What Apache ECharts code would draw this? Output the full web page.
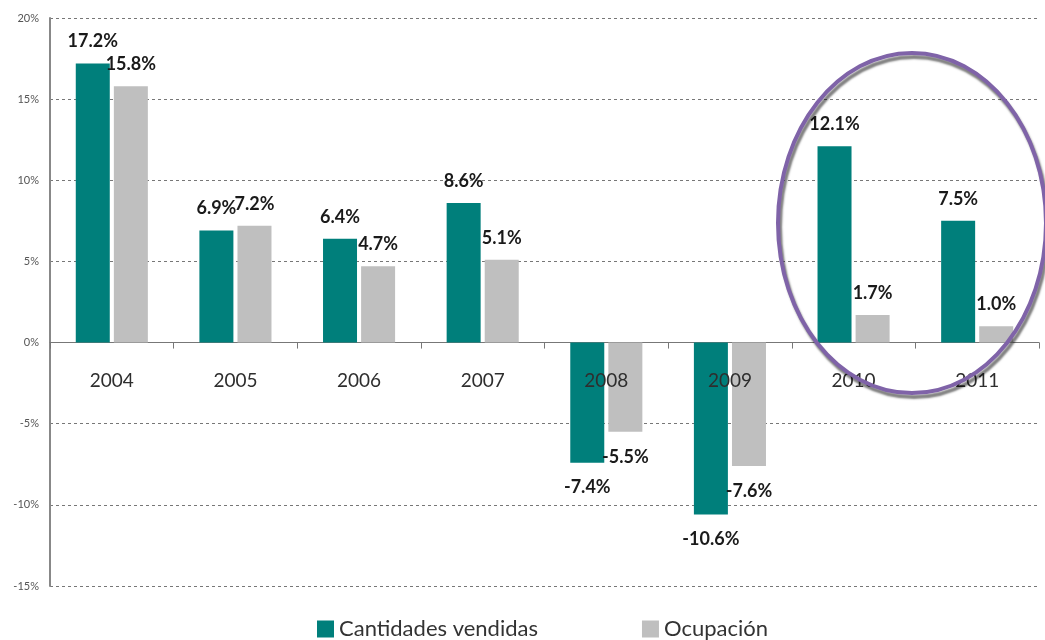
<!DOCTYPE html>
<html>
<head>
<meta charset="utf-8">
<script src="https://cdn.jsdelivr.net/npm/echarts@6/dist/echarts.min.js"></script>
<style>
  html, body { margin: 0; padding: 0; background: #fff; }
  #main { width: 1045px; height: 640px; }
</style>
</head>
<body>
<div id="main"></div>
<script>
// datos del gráfico
var years = ["2004", "2005", "2006", "2007", "2008", "2009", "2010", "2011"];
var cantidades = [17.2, 6.9, 6.4, 8.6, -7.4, -10.6, 12.1, 7.5];
var ocupacion = [15.8, 7.2, 4.7, 5.1, -5.5, -7.6, 1.7, 1.0];
var seriesNames = ["Cantidades vendidas", "Ocupación"];

var FONT = "Lato, 'Open Sans', sans-serif";

// etiqueta arriba si es positivo, abajo si es negativo
function makeData(values) {
  return values.map(function (v) {
    return {
      value: v,
      label: v < 0 ? { position: "bottom", distance: 16 } : { position: "top", distance: 13 }
    };
  });
}

var labelStyle = {
  show: true,
  fontFamily: FONT,
  fontSize: 18,
  fontWeight: "bold",
  color: "#1a1a1a",
  formatter: function (p) { return p.value.toFixed(1) + "%"; }
};

var chart = echarts.init(document.getElementById("main"));
var option = {
  animation: false,
  textStyle: { fontFamily: FONT },
  grid: { left: 50, right: 6, top: 18, bottom: 54, containLabel: false },
  legend: {
    bottom: -5,
    left: 312,
    itemWidth: 17,
    itemHeight: 17,
    itemGap: 104,
    icon: "rect",
    textStyle: { fontFamily: FONT, fontSize: 22, color: "#333" },
    data: seriesNames
  },
  xAxis: {
    type: "category",
    data: years,
    axisLine: { onZero: true, lineStyle: { color: "#777", width: 1 } },
    axisTick: { show: true, alignWithLabel: false, length: 6, lineStyle: { color: "#777" } },
    axisLabel: { show: false }
  },
  yAxis: {
    type: "value",
    min: -15,
    max: 20,
    interval: 5,
    axisLine: { show: true, lineStyle: { color: "#888", width: 2 } },
    axisTick: { show: false },
    axisLabel: { formatter: "{value}%", fontSize: 11, color: "#555", margin: 11, fontFamily: FONT },
    splitLine: { lineStyle: { type: [3, 3], color: "#777", width: 1 } }
  },
  series: [
    {
      name: seriesNames[0],
      type: "bar",
      barWidth: 34,
      barGap: "12%",
      itemStyle: { color: "#007F7B" },
      label: labelStyle,
      data: makeData(cantidades)
    },
    {
      name: seriesNames[1],
      type: "bar",
      barWidth: 34,
      barGap: "12%",
      itemStyle: { color: "#BFBFBF" },
      label: labelStyle,
      data: makeData(ocupacion)
    },
    {
      // años bajo la línea del cero
      name: "años",
      type: "custom",
      silent: true,
      z: 5,
      data: years.map(function (y, i) { return [i, 0]; }),
      renderItem: function (params, api) {
        var p = api.coord([api.value(0), 0]);
        return {
          type: "text",
          x: p[0],
          y: p[1] + 38,
          style: {
            text: years[api.value(0)],
            fontFamily: FONT,
            fontSize: 19,
            fill: "#2e2e2e",
            align: "center",
            verticalAlign: "middle"
          }
        };
      }
    }
  ],
  // círculo de resaltado 2010-2011
  graphic: [
    {
      type: "ellipse",
      shape: { cx: 912, cy: 223, rx: 134, ry: 170 },
      style: {
        fill: "none",
        stroke: "#7F63A8",
        lineWidth: 4,
        shadowColor: "rgba(0,0,0,0.5)",
        shadowBlur: 2,
        shadowOffsetX: 2,
        shadowOffsetY: 4
      },
      z: 100
    }
  ]
};
chart.setOption(option);
</script>
</body>
</html>
